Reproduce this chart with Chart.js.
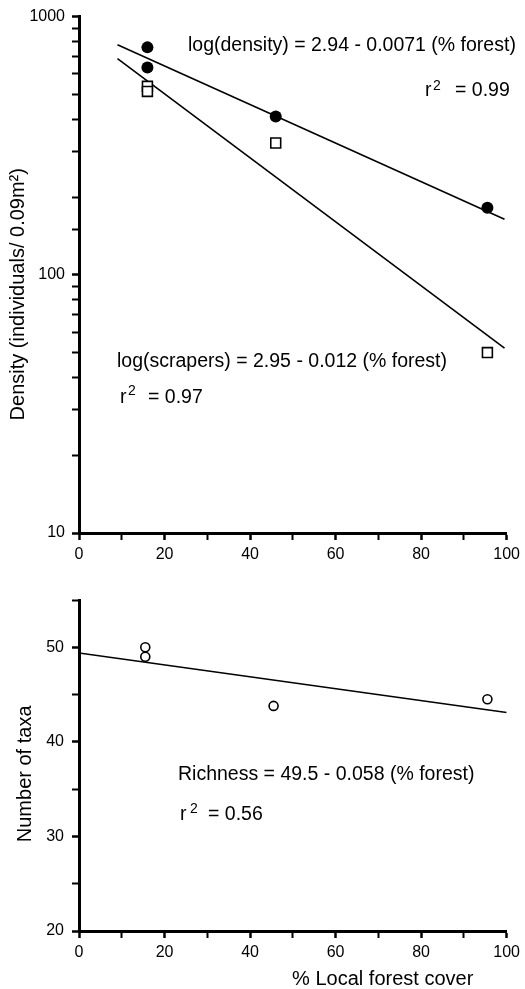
<!DOCTYPE html>
<html>
<head>
<meta charset="utf-8">
<script src="https://cdn.jsdelivr.net/npm/chart.js@4.4.1/dist/chart.umd.min.js"></script>
<style>
html,body{margin:0;padding:0;background:#fff;}
#wrap{position:relative;width:525px;height:989px;overflow:hidden;}
#c1{position:absolute;left:0;top:0;}
#c2{position:absolute;left:0;top:575px;}
</style>
</head>
<body>
<div id="wrap">
<canvas id="c1" width="525" height="575"></canvas>
<canvas id="c2" width="525" height="414"></canvas>
</div>
<script>
// ---- data ----
const forestDensity = [16, 16, 46, 95.5];
const density = [760, 635, 410, 182];
const forestScrapers = [16, 16, 46, 95.5];
const scrapers = [537, 513, 324, 50];
const densityFitX = [9, 99.5];
const densityFitY = [778, 164];
const scrapersFitX = [9, 99.5];
const scrapersFitY = [687, 52];
const forestRichness = [15.5, 15.5, 45.5, 95.5];
const richness = [50.0, 49.0, 43.8, 44.5];
const richnessFitX = [0, 100];
const richnessFitY = [49.4, 43.1];
const xTickLabels = [0, 20, 40, 60, 80, 100];
const logTickLabels = [10, 100, 1000];
const taxaTickLabels = [20, 30, 40, 50];

const FONT = '"Liberation Sans", Arial, Helvetica, sans-serif';
const pts = (xs, ys) => xs.map((x, i) => ({x: x, y: ys[i]}));

const textPlugin = (items) => ({
  id: 'annot',
  afterDraw(chart) {
    const ctx = chart.ctx;
    ctx.save();
    ctx.fillStyle = '#000';
    ctx.textAlign = 'left';
    ctx.textBaseline = 'alphabetic';
    items.forEach(it => {
      ctx.font = it.size + 'px ' + FONT;
      ctx.fillText(it.text, it.x, it.y);
    });
    ctx.restore();
  }
});

function xAxis(height, title) {
  return {
    type: 'linear', min: 0, max: 100, position: 'bottom',
    afterFit: s => { s.height = height; },
    border: {display: true, width: 3, color: '#000'},
    grid: {
      display: true, drawOnChartArea: false, drawTicks: true, tickLength: 7,
      tickColor: '#000',
      tickWidth: c => (c.tick && xTickLabels.includes(c.tick.value)) ? 2.5 : 2
    },
    ticks: {
      stepSize: 10, autoSkip: false, maxRotation: 0, padding: 5, color: '#000',
      font: {family: FONT, size: 16},
      callback: v => xTickLabels.includes(v) ? String(v) : ''
    },
    title: title
  };
}

// ---- top chart: density (log) ----
new Chart(document.getElementById('c1'), {
  type: 'scatter',
  data: {
    datasets: [
      {label: 'Density', data: pts(forestDensity, density), pointStyle: 'circle',
       pointRadius: 6, backgroundColor: '#000', borderColor: '#000', borderWidth: 0},
      {label: 'Scrapers', data: pts(forestScrapers, scrapers), pointStyle: 'rect',
       pointRadius: 7, backgroundColor: '#fff', borderColor: '#000', borderWidth: 1.6},
      {label: 'Density fit', data: pts(densityFitX, densityFitY), showLine: true,
       pointRadius: 0, borderColor: '#000', borderWidth: 1.6},
      {label: 'Scrapers fit', data: pts(scrapersFitX, scrapersFitY), showLine: true,
       pointRadius: 0, borderColor: '#000', borderWidth: 1.6}
    ]
  },
  options: {
    responsive: false, animation: false,
    layout: {padding: {left: 0, right: 14, top: 15, bottom: 12}},
    plugins: {legend: {display: false}, tooltip: {enabled: false}},
    scales: {
      x: xAxis(30, {display: false}),
      y: {
        type: 'logarithmic', min: 10, max: 1000,
        afterFit: s => { s.width = 79; },
        border: {display: true, width: 3, color: '#000'},
        grid: {
          display: true, drawOnChartArea: false, drawTicks: true, tickLength: 7,
          tickColor: '#000',
          tickWidth: c => (c.tick && logTickLabels.includes(c.tick.value)) ? 2.5 : 2
        },
        ticks: {
          autoSkip: false, padding: 7, color: '#000', font: {family: FONT, size: 16},
          callback: v => logTickLabels.includes(v) ? String(v) : ''
        },
        title: {
          display: true, text: 'Density (individuals/ 0.09m\u00B2)       ',
          color: '#000', font: {family: FONT, size: 20}, padding: {top: 6, bottom: 0}
        }
      }
    }
  },
  plugins: [textPlugin([
    {text: 'log(density) = 2.94 - 0.0071 (% forest)', x: 188, y: 51, size: 19.5},
    {text: 'r', x: 425, y: 96, size: 19.5},
    {text: '2', x: 433, y: 90, size: 14},
    {text: '= 0.99', x: 455, y: 96, size: 19.5},
    {text: 'log(scrapers) = 2.95 - 0.012 (% forest)', x: 117, y: 367, size: 19.5},
    {text: 'r', x: 120, y: 403, size: 19.5},
    {text: '2', x: 128, y: 395, size: 14},
    {text: '= 0.97', x: 148, y: 403, size: 19.5}
  ])]
});

// ---- bottom chart: richness ----
new Chart(document.getElementById('c2'), {
  type: 'scatter',
  data: {
    datasets: [
      {label: 'Richness', data: pts(forestRichness, richness), pointStyle: 'circle',
       pointRadius: 4.5, backgroundColor: '#fff', borderColor: '#000', borderWidth: 1.6},
      {label: 'Richness fit', data: pts(richnessFitX, richnessFitY), showLine: true,
       pointRadius: 0, borderColor: '#000', borderWidth: 1.6}
    ]
  },
  options: {
    responsive: false, animation: false,
    layout: {padding: {left: 0, right: 14, top: 25, bottom: 0}},
    plugins: {legend: {display: false}, tooltip: {enabled: false}},
    scales: {
      x: xAxis(58, {
        display: true, text: '% Local forest cover      ', align: 'end',
        color: '#000', font: {family: FONT, size: 20, lineHeight: 1}, padding: {top: 0, bottom: 0}
      }),
      y: {
        type: 'linear', min: 20, max: 55,
        afterFit: s => { s.width = 79; },
        border: {display: true, width: 3, color: '#000'},
        grid: {
          display: true, drawOnChartArea: false, drawTicks: true, tickLength: 7,
          tickColor: '#000',
          tickWidth: c => (c.tick && taxaTickLabels.includes(c.tick.value)) ? 2.5 : 2
        },
        ticks: {
          stepSize: 5, autoSkip: false, padding: 8, color: '#000', font: {family: FONT, size: 16},
          callback: v => taxaTickLabels.includes(v) ? String(v) : ''
        },
        title: {
          display: true, text: 'Number of taxa   ',
          color: '#000', font: {family: FONT, size: 20}, padding: {top: 13, bottom: 0}
        }
      }
    }
  },
  plugins: [textPlugin([
    {text: 'Richness = 49.5 - 0.058 (% forest)', x: 178, y: 205, size: 19.5},
    {text: 'r', x: 180, y: 245, size: 19.5},
    {text: '2', x: 190, y: 238, size: 14},
    {text: '= 0.56', x: 208, y: 245, size: 19.5}
  ])]
});
</script>
</body>
</html>
